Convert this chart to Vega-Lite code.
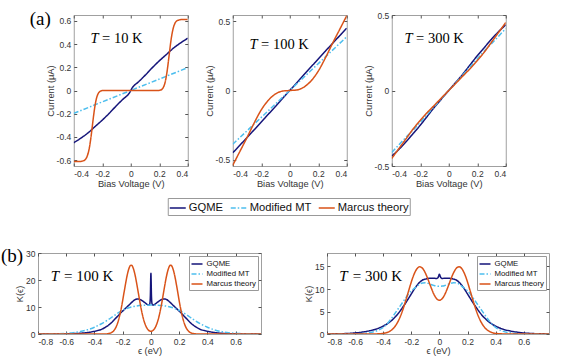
{
  "$schema": "https://vega.github.io/schema/vega-lite/v6.json",
  "padding": {"left": 0, "top": 9, "right": 2, "bottom": 2},
  "background": "white",
  "config": {
    "view": {"stroke": "#a0a0a0", "strokeWidth": 1},
    "font": "Liberation Sans",
    "axis": {"grid": false, "domain": false, "tickColor": "#555", "tickSize": -3, "labelFont": "Liberation Sans", "labelFontSize": 8.5, "labelColor": "#333", "titleFont": "Liberation Sans", "titleFontSize": 9.3, "titleFontWeight": "normal", "titleColor": "#333", "labelPadding": 6, "titlePadding": 2},
    "axisY": {"titlePadding": 1},
    "legend": {"labelFont": "Liberation Sans", "labelColor": "#111", "gridAlign": "none"},
    "locale": {"number": {"decimal": ".", "thousands": ",", "grouping": [3], "currency": ["$", ""], "minus": "-"}},
    "line": {"strokeWidth": 1.5, "interpolate": "monotone"}
  },
  "center": true,
  "spacing": 30,
  "resolve": {"scale": {"x": "independent", "y": "independent", "color": "independent", "strokeDash": "independent"}, "axis": {"x": "independent", "y": "independent"}, "legend": {"color": "independent", "strokeDash": "independent"}},
  "vconcat": [
    {
      "spacing": 15,
      "resolve": {"scale": {"x": "independent", "y": "independent", "color": "shared", "strokeDash": "shared"}, "axis": {"x": "independent", "y": "independent"}, "legend": {"color": "shared", "strokeDash": "shared"}},
      "hconcat": [
        {
          "width": 114, "height": 151,
          "resolve": {"axis": {"x": "independent", "y": "independent"}},
          "layer": [
            {
              "data": {"values": [
                {"s":"GQME","v":-0.4,"i":-0.45},{"s":"GQME","v":-0.35,"i":-0.41},{"s":"GQME","v":-0.3,"i":-0.365},{"s":"GQME","v":-0.25,"i":-0.31},{"s":"GQME","v":-0.2,"i":-0.255},{"s":"GQME","v":-0.15,"i":-0.195},{"s":"GQME","v":-0.1,"i":-0.13},{"s":"GQME","v":-0.05,"i":-0.07},{"s":"GQME","v":-0.02,"i":-0.038},{"s":"GQME","v":-0.01,"i":-0.022},{"s":"GQME","v":0,"i":0},{"s":"GQME","v":0.01,"i":0.022},{"s":"GQME","v":0.02,"i":0.038},{"s":"GQME","v":0.05,"i":0.07},{"s":"GQME","v":0.1,"i":0.13},{"s":"GQME","v":0.15,"i":0.195},{"s":"GQME","v":0.2,"i":0.255},{"s":"GQME","v":0.25,"i":0.31},{"s":"GQME","v":0.3,"i":0.365},{"s":"GQME","v":0.35,"i":0.41},{"s":"GQME","v":0.4,"i":0.45},
                {"s":"Modified MT","v":-0.4,"i":-0.197},{"s":"Modified MT","v":-0.2,"i":-0.098},{"s":"Modified MT","v":0,"i":0},{"s":"Modified MT","v":0.2,"i":0.098},{"s":"Modified MT","v":0.4,"i":0.197},
                {"s":"Marcus theory","v":-0.4,"i":-0.612},{"s":"Marcus theory","v":-0.36,"i":-0.611},{"s":"Marcus theory","v":-0.34,"i":-0.608},{"s":"Marcus theory","v":-0.33,"i":-0.604},{"s":"Marcus theory","v":-0.32,"i":-0.596},{"s":"Marcus theory","v":-0.31,"i":-0.578},{"s":"Marcus theory","v":-0.3,"i":-0.545},{"s":"Marcus theory","v":-0.29,"i":-0.49},{"s":"Marcus theory","v":-0.28,"i":-0.41},{"s":"Marcus theory","v":-0.27,"i":-0.31},{"s":"Marcus theory","v":-0.26,"i":-0.21},{"s":"Marcus theory","v":-0.25,"i":-0.125},{"s":"Marcus theory","v":-0.24,"i":-0.065},{"s":"Marcus theory","v":-0.23,"i":-0.03},{"s":"Marcus theory","v":-0.22,"i":-0.012},{"s":"Marcus theory","v":-0.21,"i":-0.004},{"s":"Marcus theory","v":-0.2,"i":-0.001},{"s":"Marcus theory","v":-0.18,"i":0},{"s":"Marcus theory","v":0,"i":0},{"s":"Marcus theory","v":0.18,"i":0},{"s":"Marcus theory","v":0.2,"i":0.001},{"s":"Marcus theory","v":0.21,"i":0.004},{"s":"Marcus theory","v":0.22,"i":0.012},{"s":"Marcus theory","v":0.23,"i":0.03},{"s":"Marcus theory","v":0.24,"i":0.065},{"s":"Marcus theory","v":0.25,"i":0.125},{"s":"Marcus theory","v":0.26,"i":0.21},{"s":"Marcus theory","v":0.27,"i":0.31},{"s":"Marcus theory","v":0.28,"i":0.41},{"s":"Marcus theory","v":0.29,"i":0.49},{"s":"Marcus theory","v":0.3,"i":0.545},{"s":"Marcus theory","v":0.31,"i":0.578},{"s":"Marcus theory","v":0.32,"i":0.596},{"s":"Marcus theory","v":0.33,"i":0.604},{"s":"Marcus theory","v":0.34,"i":0.608},{"s":"Marcus theory","v":0.36,"i":0.611},{"s":"Marcus theory","v":0.4,"i":0.612}
              ]},
              "mark": {"type": "line", "clip": true},
              "encoding": {
                "x": {"field": "v", "type": "quantitative", "scale": {"domain": [-0.4, 0.4], "nice": false}, "axis": {"values": [-0.4, -0.2, 0, 0.2, 0.4], "format": ".1~f", "title": "Bias Voltage (V)"}},
                "y": {"field": "i", "type": "quantitative", "scale": {"domain": [-0.65, 0.65], "nice": false}, "axis": {"values": [-0.6, -0.4, -0.2, 0, 0.2, 0.4, 0.6], "format": ".1~f", "title": "Current (μA)"}},
                "color": {"field": "s", "type": "nominal", "scale": {"domain": ["GQME", "Modified MT", "Marcus theory"], "range": ["#15157a", "#4dbeee", "#d95319"]},
                  "legend": {"title": null, "orient": "none", "legendX": 94, "legendY": 183, "direction": "horizontal", "symbolType": "stroke", "symbolSize": 256, "symbolStrokeWidth": 2, "labelFontSize": 11.2, "labelOffset": 2, "columnPadding": 4, "padding": 1, "strokeColor": "#999", "fillColor": "white"}},
                "strokeDash": {"field": "s", "type": "nominal", "scale": {"domain": ["GQME", "Modified MT", "Marcus theory"], "range": [[1, 0], [5, 2, 1.5, 2], [1, 0]]},
                  "legend": {"title": null, "orient": "none", "legendX": 94, "legendY": 183, "direction": "horizontal", "symbolType": "stroke", "symbolSize": 256, "symbolStrokeWidth": 2, "labelFontSize": 11.2, "labelOffset": 2, "columnPadding": 4, "padding": 1, "strokeColor": "#999", "fillColor": "white"}}
              }
            },
            {
              "data": {"values": [{"x": -0.283, "y": 0.409, "t": "T"}]},
              "mark": {"type": "text", "font": "Liberation Serif", "fontSize": 14.5, "fontStyle": "italic", "align": "left", "baseline": "alphabetic", "color": "black"},
              "encoding": {
                "x": {"field": "x", "type": "quantitative", "scale": {"domain": [-0.4, 0.4], "nice": false}, "axis": {"orient": "top", "labels": false, "title": null, "values": [-0.4, -0.2, 0, 0.2, 0.4]}},
                "y": {"field": "y", "type": "quantitative", "scale": {"domain": [-0.65, 0.65], "nice": false}, "axis": {"orient": "right", "labels": false, "title": null, "values": [-0.6, -0.4, -0.2, 0, 0.2, 0.4, 0.6]}},
                "text": {"field": "t"}
              }
            },
            {
              "data": {"values": [{"x": -0.201, "y": 0.409, "t": "= 10 K"}]},
              "mark": {"type": "text", "font": "Liberation Serif", "fontSize": 14.5, "align": "left", "baseline": "alphabetic", "color": "black"},
              "encoding": {
                "x": {"field": "x", "type": "quantitative", "scale": {"domain": [-0.4, 0.4], "nice": false}, "axis": null},
                "y": {"field": "y", "type": "quantitative", "scale": {"domain": [-0.65, 0.65], "nice": false}, "axis": null},
                "text": {"field": "t"}
              }
            },
            {
              "data": {"values": [{"x": -0.709, "y": 0.561, "t": "(a)"}]},
              "mark": {"type": "text", "font": "Liberation Serif", "fontSize": 19, "align": "left", "baseline": "alphabetic", "color": "black"},
              "encoding": {
                "x": {"field": "x", "type": "quantitative", "scale": {"domain": [-0.4, 0.4], "nice": false}, "axis": null},
                "y": {"field": "y", "type": "quantitative", "scale": {"domain": [-0.65, 0.65], "nice": false}, "axis": null},
                "text": {"field": "t"}
              }
            }
          ]
        },
        {
          "width": 114, "height": 151,
          "resolve": {"axis": {"x": "independent", "y": "independent"}},
          "layer": [
            {
              "data": {"values": [
                {"s":"GQME","v":-0.4,"i":-0.45},{"s":"GQME","v":-0.35,"i":-0.395},{"s":"GQME","v":-0.3,"i":-0.34},{"s":"GQME","v":-0.25,"i":-0.284},{"s":"GQME","v":-0.2,"i":-0.228},{"s":"GQME","v":-0.15,"i":-0.171},{"s":"GQME","v":-0.1,"i":-0.115},{"s":"GQME","v":-0.05,"i":-0.057},{"s":"GQME","v":0,"i":0},{"s":"GQME","v":0.05,"i":0.057},{"s":"GQME","v":0.1,"i":0.115},{"s":"GQME","v":0.15,"i":0.171},{"s":"GQME","v":0.2,"i":0.228},{"s":"GQME","v":0.25,"i":0.284},{"s":"GQME","v":0.3,"i":0.34},{"s":"GQME","v":0.35,"i":0.395},{"s":"GQME","v":0.4,"i":0.45},
                {"s":"Modified MT","v":-0.4,"i":-0.388},{"s":"Modified MT","v":-0.2,"i":-0.194},{"s":"Modified MT","v":0,"i":0},{"s":"Modified MT","v":0.2,"i":0.194},{"s":"Modified MT","v":0.4,"i":0.388},
                {"s":"Marcus theory","v":-0.4,"i":-0.54},{"s":"Marcus theory","v":-0.35,"i":-0.44},{"s":"Marcus theory","v":-0.3,"i":-0.34},{"s":"Marcus theory","v":-0.25,"i":-0.235},{"s":"Marcus theory","v":-0.2,"i":-0.14},{"s":"Marcus theory","v":-0.15,"i":-0.07},{"s":"Marcus theory","v":-0.1,"i":-0.025},{"s":"Marcus theory","v":-0.05,"i":-0.004},{"s":"Marcus theory","v":0,"i":0},{"s":"Marcus theory","v":0.05,"i":0.004},{"s":"Marcus theory","v":0.1,"i":0.025},{"s":"Marcus theory","v":0.15,"i":0.07},{"s":"Marcus theory","v":0.2,"i":0.14},{"s":"Marcus theory","v":0.25,"i":0.235},{"s":"Marcus theory","v":0.3,"i":0.34},{"s":"Marcus theory","v":0.35,"i":0.44},{"s":"Marcus theory","v":0.4,"i":0.54}
              ]},
              "mark": {"type": "line", "clip": true},
              "encoding": {
                "x": {"field": "v", "type": "quantitative", "scale": {"domain": [-0.4, 0.4], "nice": false}, "axis": {"values": [-0.4, -0.2, 0, 0.2, 0.4], "format": ".1~f", "title": "Bias Voltage (V)"}},
                "y": {"field": "i", "type": "quantitative", "scale": {"domain": [-0.545, 0.545], "nice": false}, "axis": {"values": [-0.5, 0, 0.5], "format": ".1~f", "title": "Current (μA)"}},
                "color": {"field": "s", "type": "nominal", "scale": {"domain": ["GQME", "Modified MT", "Marcus theory"], "range": ["#15157a", "#4dbeee", "#d95319"]},
                  "legend": {"title": null, "orient": "none", "legendX": 94, "legendY": 183, "direction": "horizontal", "symbolType": "stroke", "symbolSize": 256, "symbolStrokeWidth": 2, "labelFontSize": 11.2, "labelOffset": 2, "columnPadding": 4, "padding": 1, "strokeColor": "#999", "fillColor": "white"}},
                "strokeDash": {"field": "s", "type": "nominal", "scale": {"domain": ["GQME", "Modified MT", "Marcus theory"], "range": [[1, 0], [5, 2, 1.5, 2], [1, 0]]},
                  "legend": {"title": null, "orient": "none", "legendX": 94, "legendY": 183, "direction": "horizontal", "symbolType": "stroke", "symbolSize": 256, "symbolStrokeWidth": 2, "labelFontSize": 11.2, "labelOffset": 2, "columnPadding": 4, "padding": 1, "strokeColor": "#999", "fillColor": "white"}}
              }
            },
            {
              "data": {"values": [{"x": -0.283, "y": 0.299, "t": "T"}]},
              "mark": {"type": "text", "font": "Liberation Serif", "fontSize": 14.5, "fontStyle": "italic", "align": "left", "baseline": "alphabetic", "color": "black"},
              "encoding": {
                "x": {"field": "x", "type": "quantitative", "scale": {"domain": [-0.4, 0.4], "nice": false}, "axis": {"orient": "top", "labels": false, "title": null, "values": [-0.4, -0.2, 0, 0.2, 0.4]}},
                "y": {"field": "y", "type": "quantitative", "scale": {"domain": [-0.545, 0.545], "nice": false}, "axis": {"orient": "right", "labels": false, "title": null, "values": [-0.5, 0, 0.5]}},
                "text": {"field": "t"}
              }
            },
            {
              "data": {"values": [{"x": -0.201, "y": 0.299, "t": "= 100 K"}]},
              "mark": {"type": "text", "font": "Liberation Serif", "fontSize": 14.5, "align": "left", "baseline": "alphabetic", "color": "black"},
              "encoding": {
                "x": {"field": "x", "type": "quantitative", "scale": {"domain": [-0.4, 0.4], "nice": false}, "axis": null},
                "y": {"field": "y", "type": "quantitative", "scale": {"domain": [-0.545, 0.545], "nice": false}, "axis": null},
                "text": {"field": "t"}
              }
            }
          ]
        },
        {
          "width": 114, "height": 151,
          "resolve": {"axis": {"x": "independent", "y": "independent"}},
          "layer": [
            {
              "data": {"values": [
                {"s":"GQME","v":-0.4,"i":-0.435},{"s":"GQME","v":-0.35,"i":-0.39},{"s":"GQME","v":-0.3,"i":-0.34},{"s":"GQME","v":-0.25,"i":-0.285},{"s":"GQME","v":-0.2,"i":-0.23},{"s":"GQME","v":-0.15,"i":-0.17},{"s":"GQME","v":-0.1,"i":-0.11},{"s":"GQME","v":-0.05,"i":-0.055},{"s":"GQME","v":0,"i":0},{"s":"GQME","v":0.05,"i":0.055},{"s":"GQME","v":0.1,"i":0.11},{"s":"GQME","v":0.15,"i":0.17},{"s":"GQME","v":0.2,"i":0.23},{"s":"GQME","v":0.25,"i":0.285},{"s":"GQME","v":0.3,"i":0.34},{"s":"GQME","v":0.35,"i":0.39},{"s":"GQME","v":0.4,"i":0.435},
                {"s":"Modified MT","v":-0.4,"i":-0.41},{"s":"Modified MT","v":-0.35,"i":-0.36},{"s":"Modified MT","v":-0.3,"i":-0.31},{"s":"Modified MT","v":-0.25,"i":-0.262},{"s":"Modified MT","v":-0.2,"i":-0.21},{"s":"Modified MT","v":-0.15,"i":-0.158},{"s":"Modified MT","v":-0.1,"i":-0.105},{"s":"Modified MT","v":-0.05,"i":-0.052},{"s":"Modified MT","v":0,"i":0},{"s":"Modified MT","v":0.05,"i":0.052},{"s":"Modified MT","v":0.1,"i":0.105},{"s":"Modified MT","v":0.15,"i":0.158},{"s":"Modified MT","v":0.2,"i":0.21},{"s":"Modified MT","v":0.25,"i":0.262},{"s":"Modified MT","v":0.3,"i":0.31},{"s":"Modified MT","v":0.35,"i":0.36},{"s":"Modified MT","v":0.4,"i":0.41},
                {"s":"Marcus theory","v":-0.4,"i":-0.45},{"s":"Marcus theory","v":-0.35,"i":-0.385},{"s":"Marcus theory","v":-0.3,"i":-0.32},{"s":"Marcus theory","v":-0.25,"i":-0.255},{"s":"Marcus theory","v":-0.2,"i":-0.198},{"s":"Marcus theory","v":-0.15,"i":-0.145},{"s":"Marcus theory","v":-0.1,"i":-0.097},{"s":"Marcus theory","v":-0.05,"i":-0.048},{"s":"Marcus theory","v":0,"i":0},{"s":"Marcus theory","v":0.05,"i":0.048},{"s":"Marcus theory","v":0.1,"i":0.097},{"s":"Marcus theory","v":0.15,"i":0.145},{"s":"Marcus theory","v":0.2,"i":0.198},{"s":"Marcus theory","v":0.25,"i":0.255},{"s":"Marcus theory","v":0.3,"i":0.32},{"s":"Marcus theory","v":0.35,"i":0.385},{"s":"Marcus theory","v":0.4,"i":0.45}
              ]},
              "mark": {"type": "line", "clip": true},
              "encoding": {
                "x": {"field": "v", "type": "quantitative", "scale": {"domain": [-0.4, 0.4], "nice": false}, "axis": {"values": [-0.4, -0.2, 0, 0.2, 0.4], "format": ".1~f", "title": "Bias Voltage (V)"}},
                "y": {"field": "i", "type": "quantitative", "scale": {"domain": [-0.5, 0.5], "nice": false}, "axis": {"values": [-0.5, 0, 0.5], "format": ".1~f", "title": "Current (μA)"}},
                "color": {"field": "s", "type": "nominal", "scale": {"domain": ["GQME", "Modified MT", "Marcus theory"], "range": ["#15157a", "#4dbeee", "#d95319"]},
                  "legend": {"title": null, "orient": "none", "legendX": 94, "legendY": 183, "direction": "horizontal", "symbolType": "stroke", "symbolSize": 256, "symbolStrokeWidth": 2, "labelFontSize": 11.2, "labelOffset": 2, "columnPadding": 4, "padding": 1, "strokeColor": "#999", "fillColor": "white"}},
                "strokeDash": {"field": "s", "type": "nominal", "scale": {"domain": ["GQME", "Modified MT", "Marcus theory"], "range": [[1, 0], [5, 2, 1.5, 2], [1, 0]]},
                  "legend": {"title": null, "orient": "none", "legendX": 94, "legendY": 183, "direction": "horizontal", "symbolType": "stroke", "symbolSize": 256, "symbolStrokeWidth": 2, "labelFontSize": 11.2, "labelOffset": 2, "columnPadding": 4, "padding": 1, "strokeColor": "#999", "fillColor": "white"}}
              }
            },
            {
              "data": {"values": [{"x": -0.311, "y": 0.315, "t": "T"}]},
              "mark": {"type": "text", "font": "Liberation Serif", "fontSize": 14.5, "fontStyle": "italic", "align": "left", "baseline": "alphabetic", "color": "black"},
              "encoding": {
                "x": {"field": "x", "type": "quantitative", "scale": {"domain": [-0.4, 0.4], "nice": false}, "axis": {"orient": "top", "labels": false, "title": null, "values": [-0.4, -0.2, 0, 0.2, 0.4]}},
                "y": {"field": "y", "type": "quantitative", "scale": {"domain": [-0.5, 0.5], "nice": false}, "axis": {"orient": "right", "labels": false, "title": null, "values": [-0.5, 0, 0.5], "minExtent": 8}},
                "text": {"field": "t"}
              }
            },
            {
              "data": {"values": [{"x": -0.229, "y": 0.315, "t": "= 300 K"}]},
              "mark": {"type": "text", "font": "Liberation Serif", "fontSize": 14.5, "align": "left", "baseline": "alphabetic", "color": "black"},
              "encoding": {
                "x": {"field": "x", "type": "quantitative", "scale": {"domain": [-0.4, 0.4], "nice": false}, "axis": null},
                "y": {"field": "y", "type": "quantitative", "scale": {"domain": [-0.5, 0.5], "nice": false}, "axis": null},
                "text": {"field": "t"}
              }
            }
          ]
        }
      ]
    },
    {
      "spacing": 42,
      "resolve": {"scale": {"x": "independent", "y": "independent", "color": "independent", "strokeDash": "independent"}, "axis": {"x": "independent", "y": "independent"}, "legend": {"color": "independent", "strokeDash": "independent"}},
      "hconcat": [
        {
          "width": 223, "height": 81,
          "resolve": {"axis": {"x": "independent", "y": "independent"}},
          "layer": [
            {
              "data": {"values": [
                {"s":"GQME","e":-0.8,"k":0},{"s":"GQME","e":-0.7,"k":0.01},{"s":"GQME","e":-0.6,"k":0.05},{"s":"GQME","e":-0.55,"k":0.13},{"s":"GQME","e":-0.5,"k":0.28},{"s":"GQME","e":-0.45,"k":0.55},{"s":"GQME","e":-0.41,"k":0.9},{"s":"GQME","e":-0.38,"k":1.25},{"s":"GQME","e":-0.35,"k":1.7},{"s":"GQME","e":-0.33,"k":2.25},{"s":"GQME","e":-0.31,"k":2.9},{"s":"GQME","e":-0.29,"k":3.7},{"s":"GQME","e":-0.27,"k":4.7},{"s":"GQME","e":-0.25,"k":5.8},{"s":"GQME","e":-0.23,"k":6.9},{"s":"GQME","e":-0.21,"k":8.0},{"s":"GQME","e":-0.19,"k":9.0},{"s":"GQME","e":-0.17,"k":10.0},{"s":"GQME","e":-0.15,"k":11.0},{"s":"GQME","e":-0.13,"k":12.0},{"s":"GQME","e":-0.11,"k":12.8},{"s":"GQME","e":-0.09,"k":13.0},{"s":"GQME","e":-0.07,"k":12.6},{"s":"GQME","e":-0.05,"k":11.9},{"s":"GQME","e":-0.03,"k":11.1},{"s":"GQME","e":-0.015,"k":10.7},{"s":"GQME","e":-0.008,"k":11.2},{"s":"GQME","e":-0.004,"k":14},{"s":"GQME","e":0,"k":22.5},{"s":"GQME","e":0.004,"k":14},{"s":"GQME","e":0.008,"k":11.2},{"s":"GQME","e":0.015,"k":10.7},{"s":"GQME","e":0.03,"k":11.1},{"s":"GQME","e":0.05,"k":11.9},{"s":"GQME","e":0.07,"k":12.6},{"s":"GQME","e":0.09,"k":13.0},{"s":"GQME","e":0.11,"k":12.8},{"s":"GQME","e":0.13,"k":12.0},{"s":"GQME","e":0.15,"k":11.0},{"s":"GQME","e":0.17,"k":10.0},{"s":"GQME","e":0.19,"k":9.0},{"s":"GQME","e":0.21,"k":8.0},{"s":"GQME","e":0.23,"k":6.9},{"s":"GQME","e":0.25,"k":5.8},{"s":"GQME","e":0.27,"k":4.7},{"s":"GQME","e":0.29,"k":3.7},{"s":"GQME","e":0.31,"k":2.9},{"s":"GQME","e":0.33,"k":2.25},{"s":"GQME","e":0.35,"k":1.7},{"s":"GQME","e":0.38,"k":1.25},{"s":"GQME","e":0.41,"k":0.9},{"s":"GQME","e":0.45,"k":0.55},{"s":"GQME","e":0.5,"k":0.28},{"s":"GQME","e":0.55,"k":0.13},{"s":"GQME","e":0.6,"k":0.05},{"s":"GQME","e":0.7,"k":0.01},{"s":"GQME","e":0.78,"k":0},
                {"s":"Modified MT","e":-0.8,"k":0.01},{"s":"Modified MT","e":-0.7,"k":0.05},{"s":"Modified MT","e":-0.65,"k":0.11},{"s":"Modified MT","e":-0.6,"k":0.24},{"s":"Modified MT","e":-0.55,"k":0.48},{"s":"Modified MT","e":-0.5,"k":0.9},{"s":"Modified MT","e":-0.45,"k":1.55},{"s":"Modified MT","e":-0.4,"k":2.5},{"s":"Modified MT","e":-0.35,"k":3.8},{"s":"Modified MT","e":-0.3,"k":5.4},{"s":"Modified MT","e":-0.25,"k":7.2},{"s":"Modified MT","e":-0.2,"k":8.8},{"s":"Modified MT","e":-0.15,"k":9.8},{"s":"Modified MT","e":-0.1,"k":10.4},{"s":"Modified MT","e":-0.05,"k":10.65},{"s":"Modified MT","e":0,"k":10.7},{"s":"Modified MT","e":0.05,"k":10.65},{"s":"Modified MT","e":0.1,"k":10.4},{"s":"Modified MT","e":0.15,"k":9.8},{"s":"Modified MT","e":0.2,"k":8.8},{"s":"Modified MT","e":0.25,"k":7.2},{"s":"Modified MT","e":0.3,"k":5.4},{"s":"Modified MT","e":0.35,"k":3.8},{"s":"Modified MT","e":0.4,"k":2.5},{"s":"Modified MT","e":0.45,"k":1.55},{"s":"Modified MT","e":0.5,"k":0.9},{"s":"Modified MT","e":0.55,"k":0.48},{"s":"Modified MT","e":0.6,"k":0.24},{"s":"Modified MT","e":0.65,"k":0.11},{"s":"Modified MT","e":0.7,"k":0.05},{"s":"Modified MT","e":0.78,"k":0.01},
                {"s":"Marcus theory","e":-0.8,"k":0},{"s":"Marcus theory","e":-0.4,"k":0},{"s":"Marcus theory","e":-0.34,"k":0.01},{"s":"Marcus theory","e":-0.32,"k":0.04},{"s":"Marcus theory","e":-0.31,"k":0.08},{"s":"Marcus theory","e":-0.3,"k":0.15},{"s":"Marcus theory","e":-0.29,"k":0.28},{"s":"Marcus theory","e":-0.28,"k":0.5},{"s":"Marcus theory","e":-0.27,"k":0.87},{"s":"Marcus theory","e":-0.26,"k":1.43},{"s":"Marcus theory","e":-0.25,"k":2.27},{"s":"Marcus theory","e":-0.24,"k":3.45},{"s":"Marcus theory","e":-0.23,"k":5.05},{"s":"Marcus theory","e":-0.22,"k":7.09},{"s":"Marcus theory","e":-0.21,"k":9.57},{"s":"Marcus theory","e":-0.2,"k":12.4},{"s":"Marcus theory","e":-0.19,"k":15.5},{"s":"Marcus theory","e":-0.18,"k":18.5},{"s":"Marcus theory","e":-0.17,"k":21.3},{"s":"Marcus theory","e":-0.16,"k":23.5},{"s":"Marcus theory","e":-0.15,"k":25.0},{"s":"Marcus theory","e":-0.14,"k":25.5},{"s":"Marcus theory","e":-0.13,"k":25.0},{"s":"Marcus theory","e":-0.12,"k":23.5},{"s":"Marcus theory","e":-0.11,"k":21.3},{"s":"Marcus theory","e":-0.1,"k":18.5},{"s":"Marcus theory","e":-0.09,"k":15.5},{"s":"Marcus theory","e":-0.08,"k":12.4},{"s":"Marcus theory","e":-0.07,"k":9.57},{"s":"Marcus theory","e":-0.06,"k":7.1},{"s":"Marcus theory","e":-0.05,"k":5.05},{"s":"Marcus theory","e":-0.04,"k":3.49},{"s":"Marcus theory","e":-0.03,"k":2.35},{"s":"Marcus theory","e":-0.02,"k":1.58},{"s":"Marcus theory","e":-0.01,"k":1.15},{"s":"Marcus theory","e":0,"k":1.01},{"s":"Marcus theory","e":0.01,"k":1.15},{"s":"Marcus theory","e":0.02,"k":1.58},{"s":"Marcus theory","e":0.03,"k":2.35},{"s":"Marcus theory","e":0.04,"k":3.49},{"s":"Marcus theory","e":0.05,"k":5.05},{"s":"Marcus theory","e":0.06,"k":7.1},{"s":"Marcus theory","e":0.07,"k":9.57},{"s":"Marcus theory","e":0.08,"k":12.4},{"s":"Marcus theory","e":0.09,"k":15.5},{"s":"Marcus theory","e":0.1,"k":18.5},{"s":"Marcus theory","e":0.11,"k":21.3},{"s":"Marcus theory","e":0.12,"k":23.5},{"s":"Marcus theory","e":0.13,"k":25.0},{"s":"Marcus theory","e":0.14,"k":25.5},{"s":"Marcus theory","e":0.15,"k":25.0},{"s":"Marcus theory","e":0.16,"k":23.5},{"s":"Marcus theory","e":0.17,"k":21.3},{"s":"Marcus theory","e":0.18,"k":18.5},{"s":"Marcus theory","e":0.19,"k":15.5},{"s":"Marcus theory","e":0.2,"k":12.4},{"s":"Marcus theory","e":0.21,"k":9.57},{"s":"Marcus theory","e":0.22,"k":7.09},{"s":"Marcus theory","e":0.23,"k":5.05},{"s":"Marcus theory","e":0.24,"k":3.45},{"s":"Marcus theory","e":0.25,"k":2.27},{"s":"Marcus theory","e":0.26,"k":1.43},{"s":"Marcus theory","e":0.27,"k":0.87},{"s":"Marcus theory","e":0.28,"k":0.5},{"s":"Marcus theory","e":0.29,"k":0.28},{"s":"Marcus theory","e":0.3,"k":0.15},{"s":"Marcus theory","e":0.31,"k":0.08},{"s":"Marcus theory","e":0.32,"k":0.04},{"s":"Marcus theory","e":0.34,"k":0.01},{"s":"Marcus theory","e":0.4,"k":0},{"s":"Marcus theory","e":0.78,"k":0}
              ]},
              "mark": {"type": "line", "clip": true},
              "encoding": {
                "x": {"field": "e", "type": "quantitative", "scale": {"domain": [-0.8, 0.78], "nice": false}, "axis": {"values": [-0.8, -0.6, -0.4, -0.2, 0, 0.2, 0.4, 0.6], "format": ".1~f", "title": "ϵ (eV)", "titlePadding": 1}},
                "y": {"field": "k", "type": "quantitative", "scale": {"domain": [0, 30], "nice": false}, "axis": {"values": [0, 10, 20, 30], "format": "d", "title": "K(ϵ)"}},
                "color": {"field": "s", "type": "nominal", "scale": {"domain": ["GQME", "Modified MT", "Marcus theory"], "range": ["#15157a", "#4dbeee", "#d95319"]},
                  "legend": {"title": null, "orient": "top-right", "offset": 3, "symbolType": "stroke", "symbolSize": 121, "symbolStrokeWidth": 1.8, "labelFontSize": 7.8, "labelOffset": 3, "rowPadding": -1, "padding": 1.5, "strokeColor": "#999", "fillColor": "white"}},
                "strokeDash": {"field": "s", "type": "nominal", "scale": {"domain": ["GQME", "Modified MT", "Marcus theory"], "range": [[1, 0], [5, 2, 1.5, 2], [1, 0]]},
                  "legend": {"title": null, "orient": "top-right", "offset": 3, "symbolType": "stroke", "symbolSize": 121, "symbolStrokeWidth": 1.8, "labelFontSize": 7.8, "labelOffset": 3, "rowPadding": -1, "padding": 1.5, "strokeColor": "#999", "fillColor": "white"}}
              }
            },
            {
              "data": {"values": [{"x": -0.71, "y": 19.6, "t": "T"}]},
              "mark": {"type": "text", "font": "Liberation Serif", "fontSize": 15, "fontStyle": "italic", "align": "left", "baseline": "alphabetic", "color": "black"},
              "encoding": {
                "x": {"field": "x", "type": "quantitative", "scale": {"domain": [-0.8, 0.78], "nice": false}, "axis": {"orient": "top", "labels": false, "title": null, "values": [-0.8, -0.6, -0.4, -0.2, 0, 0.2, 0.4, 0.6]}},
                "y": {"field": "y", "type": "quantitative", "scale": {"domain": [0, 30], "nice": false}, "axis": {"orient": "right", "labels": false, "title": null, "values": [0, 10, 20, 30]}},
                "text": {"field": "t"}
              }
            },
            {
              "data": {"values": [{"x": -0.616, "y": 19.6, "t": "= 100 K"}]},
              "mark": {"type": "text", "font": "Liberation Serif", "fontSize": 15, "align": "left", "baseline": "alphabetic", "color": "black"},
              "encoding": {
                "x": {"field": "x", "type": "quantitative", "scale": {"domain": [-0.8, 0.78], "nice": false}, "axis": null},
                "y": {"field": "y", "type": "quantitative", "scale": {"domain": [0, 30], "nice": false}, "axis": null},
                "text": {"field": "t"}
              }
            },
            {
              "data": {"values": [{"x": -1.062, "y": 26.7, "t": "(b)"}]},
              "mark": {"type": "text", "font": "Liberation Serif", "fontSize": 19, "align": "left", "baseline": "alphabetic", "color": "black"},
              "encoding": {
                "x": {"field": "x", "type": "quantitative", "scale": {"domain": [-0.8, 0.78], "nice": false}, "axis": null},
                "y": {"field": "y", "type": "quantitative", "scale": {"domain": [0, 30], "nice": false}, "axis": null},
                "text": {"field": "t"}
              }
            }
          ]
        },
        {
          "width": 222, "height": 81,
          "resolve": {"axis": {"x": "independent", "y": "independent"}},
          "layer": [
            {
              "data": {"values": [
                {"s":"GQME","e":-0.8,"k":0.01},{"s":"GQME","e":-0.7,"k":0.06},{"s":"GQME","e":-0.65,"k":0.12},{"s":"GQME","e":-0.6,"k":0.24},{"s":"GQME","e":-0.55,"k":0.42},{"s":"GQME","e":-0.5,"k":0.7},{"s":"GQME","e":-0.45,"k":1.1},{"s":"GQME","e":-0.4,"k":1.75},{"s":"GQME","e":-0.38,"k":2.1},{"s":"GQME","e":-0.36,"k":2.5},{"s":"GQME","e":-0.34,"k":3.0},{"s":"GQME","e":-0.32,"k":3.6},{"s":"GQME","e":-0.3,"k":4.3},{"s":"GQME","e":-0.28,"k":5.1},{"s":"GQME","e":-0.26,"k":6.0},{"s":"GQME","e":-0.24,"k":6.9},{"s":"GQME","e":-0.22,"k":7.9},{"s":"GQME","e":-0.2,"k":8.9},{"s":"GQME","e":-0.18,"k":9.9},{"s":"GQME","e":-0.16,"k":10.8},{"s":"GQME","e":-0.14,"k":11.5},{"s":"GQME","e":-0.12,"k":12.0},{"s":"GQME","e":-0.1,"k":12.2},{"s":"GQME","e":-0.08,"k":12.35},{"s":"GQME","e":-0.05,"k":12.4},{"s":"GQME","e":-0.02,"k":12.35},{"s":"GQME","e":-0.012,"k":12.45},{"s":"GQME","e":-0.006,"k":12.8},{"s":"GQME","e":0,"k":13.3},{"s":"GQME","e":0.006,"k":12.8},{"s":"GQME","e":0.012,"k":12.45},{"s":"GQME","e":0.02,"k":12.35},{"s":"GQME","e":0.05,"k":12.4},{"s":"GQME","e":0.08,"k":12.35},{"s":"GQME","e":0.1,"k":12.2},{"s":"GQME","e":0.12,"k":12.0},{"s":"GQME","e":0.14,"k":11.5},{"s":"GQME","e":0.16,"k":10.8},{"s":"GQME","e":0.18,"k":9.9},{"s":"GQME","e":0.2,"k":8.9},{"s":"GQME","e":0.22,"k":7.9},{"s":"GQME","e":0.24,"k":6.9},{"s":"GQME","e":0.26,"k":6.0},{"s":"GQME","e":0.28,"k":5.1},{"s":"GQME","e":0.3,"k":4.3},{"s":"GQME","e":0.32,"k":3.6},{"s":"GQME","e":0.34,"k":3.0},{"s":"GQME","e":0.36,"k":2.5},{"s":"GQME","e":0.38,"k":2.1},{"s":"GQME","e":0.4,"k":1.75},{"s":"GQME","e":0.45,"k":1.1},{"s":"GQME","e":0.5,"k":0.7},{"s":"GQME","e":0.55,"k":0.42},{"s":"GQME","e":0.6,"k":0.24},{"s":"GQME","e":0.65,"k":0.12},{"s":"GQME","e":0.7,"k":0.06},{"s":"GQME","e":0.78,"k":0.02},
                {"s":"Modified MT","e":-0.8,"k":0},{"s":"Modified MT","e":-0.7,"k":0.01},{"s":"Modified MT","e":-0.6,"k":0.04},{"s":"Modified MT","e":-0.55,"k":0.1},{"s":"Modified MT","e":-0.5,"k":0.27},{"s":"Modified MT","e":-0.45,"k":0.65},{"s":"Modified MT","e":-0.4,"k":1.45},{"s":"Modified MT","e":-0.38,"k":2.0},{"s":"Modified MT","e":-0.36,"k":2.7},{"s":"Modified MT","e":-0.34,"k":3.5},{"s":"Modified MT","e":-0.32,"k":4.4},{"s":"Modified MT","e":-0.3,"k":5.3},{"s":"Modified MT","e":-0.28,"k":6.2},{"s":"Modified MT","e":-0.26,"k":7.1},{"s":"Modified MT","e":-0.24,"k":8.0},{"s":"Modified MT","e":-0.22,"k":8.9},{"s":"Modified MT","e":-0.2,"k":9.6},{"s":"Modified MT","e":-0.18,"k":10.1},{"s":"Modified MT","e":-0.16,"k":10.6},{"s":"Modified MT","e":-0.14,"k":11.1},{"s":"Modified MT","e":-0.12,"k":11.35},{"s":"Modified MT","e":-0.1,"k":11.4},{"s":"Modified MT","e":-0.08,"k":11.25},{"s":"Modified MT","e":-0.06,"k":11.0},{"s":"Modified MT","e":-0.04,"k":10.8},{"s":"Modified MT","e":-0.02,"k":10.65},{"s":"Modified MT","e":0,"k":10.6},{"s":"Modified MT","e":0.02,"k":10.65},{"s":"Modified MT","e":0.04,"k":10.8},{"s":"Modified MT","e":0.06,"k":11.0},{"s":"Modified MT","e":0.08,"k":11.25},{"s":"Modified MT","e":0.1,"k":11.4},{"s":"Modified MT","e":0.12,"k":11.35},{"s":"Modified MT","e":0.14,"k":11.1},{"s":"Modified MT","e":0.16,"k":10.6},{"s":"Modified MT","e":0.18,"k":10.1},{"s":"Modified MT","e":0.2,"k":9.6},{"s":"Modified MT","e":0.22,"k":8.9},{"s":"Modified MT","e":0.24,"k":8.0},{"s":"Modified MT","e":0.26,"k":7.1},{"s":"Modified MT","e":0.28,"k":6.2},{"s":"Modified MT","e":0.3,"k":5.3},{"s":"Modified MT","e":0.32,"k":4.4},{"s":"Modified MT","e":0.34,"k":3.5},{"s":"Modified MT","e":0.36,"k":2.7},{"s":"Modified MT","e":0.38,"k":2.0},{"s":"Modified MT","e":0.4,"k":1.45},{"s":"Modified MT","e":0.45,"k":0.65},{"s":"Modified MT","e":0.5,"k":0.27},{"s":"Modified MT","e":0.55,"k":0.1},{"s":"Modified MT","e":0.6,"k":0.04},{"s":"Modified MT","e":0.7,"k":0.01},{"s":"Modified MT","e":0.78,"k":0},
                {"s":"Marcus theory","e":-0.8,"k":0},{"s":"Marcus theory","e":-0.5,"k":0},{"s":"Marcus theory","e":-0.46,"k":0.01},{"s":"Marcus theory","e":-0.44,"k":0.03},{"s":"Marcus theory","e":-0.42,"k":0.06},{"s":"Marcus theory","e":-0.4,"k":0.13},{"s":"Marcus theory","e":-0.38,"k":0.26},{"s":"Marcus theory","e":-0.36,"k":0.5},{"s":"Marcus theory","e":-0.34,"k":0.89},{"s":"Marcus theory","e":-0.32,"k":1.53},{"s":"Marcus theory","e":-0.3,"k":2.46},{"s":"Marcus theory","e":-0.28,"k":3.75},{"s":"Marcus theory","e":-0.26,"k":5.4},{"s":"Marcus theory","e":-0.24,"k":7.37},{"s":"Marcus theory","e":-0.22,"k":9.49},{"s":"Marcus theory","e":-0.2,"k":11.55},{"s":"Marcus theory","e":-0.18,"k":13.31},{"s":"Marcus theory","e":-0.16,"k":14.49},{"s":"Marcus theory","e":-0.14,"k":14.94},{"s":"Marcus theory","e":-0.12,"k":14.59},{"s":"Marcus theory","e":-0.1,"k":13.56},{"s":"Marcus theory","e":-0.08,"k":12.04},{"s":"Marcus theory","e":-0.06,"k":10.39},{"s":"Marcus theory","e":-0.04,"k":8.89},{"s":"Marcus theory","e":-0.02,"k":7.86},{"s":"Marcus theory","e":0,"k":7.5},{"s":"Marcus theory","e":0.02,"k":7.86},{"s":"Marcus theory","e":0.04,"k":8.89},{"s":"Marcus theory","e":0.06,"k":10.39},{"s":"Marcus theory","e":0.08,"k":12.04},{"s":"Marcus theory","e":0.1,"k":13.56},{"s":"Marcus theory","e":0.12,"k":14.59},{"s":"Marcus theory","e":0.14,"k":14.94},{"s":"Marcus theory","e":0.16,"k":14.49},{"s":"Marcus theory","e":0.18,"k":13.31},{"s":"Marcus theory","e":0.2,"k":11.55},{"s":"Marcus theory","e":0.22,"k":9.49},{"s":"Marcus theory","e":0.24,"k":7.37},{"s":"Marcus theory","e":0.26,"k":5.4},{"s":"Marcus theory","e":0.28,"k":3.75},{"s":"Marcus theory","e":0.3,"k":2.46},{"s":"Marcus theory","e":0.32,"k":1.53},{"s":"Marcus theory","e":0.34,"k":0.89},{"s":"Marcus theory","e":0.36,"k":0.5},{"s":"Marcus theory","e":0.38,"k":0.26},{"s":"Marcus theory","e":0.4,"k":0.13},{"s":"Marcus theory","e":0.42,"k":0.06},{"s":"Marcus theory","e":0.44,"k":0.03},{"s":"Marcus theory","e":0.46,"k":0.01},{"s":"Marcus theory","e":0.5,"k":0},{"s":"Marcus theory","e":0.78,"k":0}
              ]},
              "mark": {"type": "line", "clip": true},
              "encoding": {
                "x": {"field": "e", "type": "quantitative", "scale": {"domain": [-0.8, 0.78], "nice": false}, "axis": {"values": [-0.8, -0.6, -0.4, -0.2, 0, 0.2, 0.4, 0.6], "format": ".1~f", "title": "ϵ (eV)", "titlePadding": 1}},
                "y": {"field": "k", "type": "quantitative", "scale": {"domain": [0, 18], "nice": false}, "axis": {"values": [0, 5, 10, 15], "format": "d", "title": "K(ϵ)"}},
                "color": {"field": "s", "type": "nominal", "scale": {"domain": ["GQME", "Modified MT", "Marcus theory"], "range": ["#15157a", "#4dbeee", "#d95319"]},
                  "legend": {"title": null, "orient": "top-right", "offset": 3, "symbolType": "stroke", "symbolSize": 121, "symbolStrokeWidth": 1.8, "labelFontSize": 7.8, "labelOffset": 3, "rowPadding": -1, "padding": 1.5, "strokeColor": "#999", "fillColor": "white"}},
                "strokeDash": {"field": "s", "type": "nominal", "scale": {"domain": ["GQME", "Modified MT", "Marcus theory"], "range": [[1, 0], [5, 2, 1.5, 2], [1, 0]]},
                  "legend": {"title": null, "orient": "top-right", "offset": 3, "symbolType": "stroke", "symbolSize": 121, "symbolStrokeWidth": 1.8, "labelFontSize": 7.8, "labelOffset": 3, "rowPadding": -1, "padding": 1.5, "strokeColor": "#999", "fillColor": "white"}}
              }
            },
            {
              "data": {"values": [{"x": -0.712, "y": 11.8, "t": "T"}]},
              "mark": {"type": "text", "font": "Liberation Serif", "fontSize": 15, "fontStyle": "italic", "align": "left", "baseline": "alphabetic", "color": "black"},
              "encoding": {
                "x": {"field": "x", "type": "quantitative", "scale": {"domain": [-0.8, 0.78], "nice": false}, "axis": {"orient": "top", "labels": false, "title": null, "values": [-0.8, -0.6, -0.4, -0.2, 0, 0.2, 0.4, 0.6]}},
                "y": {"field": "y", "type": "quantitative", "scale": {"domain": [0, 18], "nice": false}, "axis": {"orient": "right", "labels": false, "title": null, "values": [0, 5, 10, 15]}},
                "text": {"field": "t"}
              }
            },
            {
              "data": {"values": [{"x": -0.617, "y": 11.8, "t": "= 300 K"}]},
              "mark": {"type": "text", "font": "Liberation Serif", "fontSize": 15, "align": "left", "baseline": "alphabetic", "color": "black"},
              "encoding": {
                "x": {"field": "x", "type": "quantitative", "scale": {"domain": [-0.8, 0.78], "nice": false}, "axis": null},
                "y": {"field": "y", "type": "quantitative", "scale": {"domain": [0, 18], "nice": false}, "axis": null},
                "text": {"field": "t"}
              }
            }
          ]
        }
      ]
    }
  ]
}
